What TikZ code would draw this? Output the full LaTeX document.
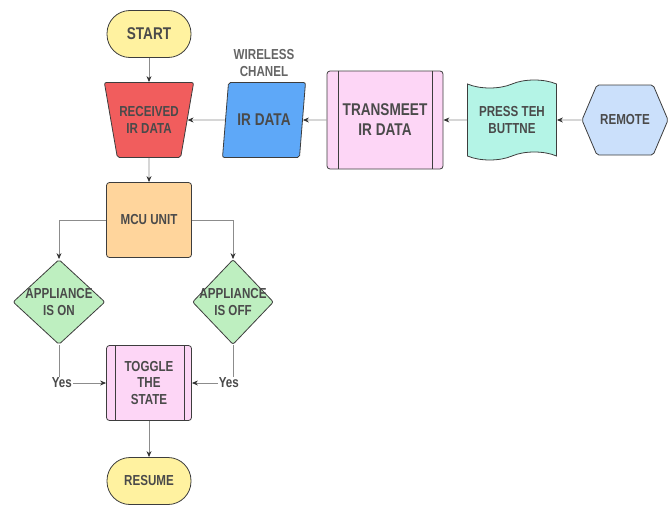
\documentclass[tikz,border=0pt]{standalone}
\usepackage{fontspec}
\newfontfamily\flowfont{Liberation Sans}[FakeStretch=0.8, BoldFont={Liberation Sans Bold}, BoldFeatures={FakeStretch=0.8}]
\usepackage{tikz}
\usetikzlibrary{arrows.meta, positioning, shapes.geometric, shapes.symbols}
\definecolor{bordergray}{HTML}{3D3D3D}
\definecolor{textgray}{HTML}{4A4A4A}
\definecolor{edgegray}{HTML}{8C8C8C}
\definecolor{tipgray}{HTML}{333333}
\definecolor{termyellow}{HTML}{FFF2A0}
\definecolor{recvred}{HTML}{F15D5D}
\definecolor{irblue}{HTML}{5EA8F8}
\definecolor{procpink}{HTML}{FDD6F6}
\definecolor{pressmint}{HTML}{B4F4E6}
\definecolor{remoteblue}{HTML}{CBE0FB}
\definecolor{mcuorange}{HTML}{FFD59C}
\definecolor{decgreen}{HTML}{BEEFC0}

\begin{document}
\begin{tikzpicture}[on grid, node distance=2cm,
        basefont/.style={font=\flowfont\bfseries\fontsize{14.5}{16.5}\selectfont, text=textgray},
        bigfont/.style={font=\flowfont\bfseries\fontsize{17}{20}\selectfont},
        box/.style={basefont, draw=bordergray, line width=0.8pt, align=center, inner sep=2pt},
        terminal/.style={box, rounded corners=23pt, minimum width=84pt, minimum height=47pt, fill=termyellow},
        process/.style={box, rounded corners=3pt, minimum width=85pt, minimum height=75pt},
        predef/.style={process, fill=procpink},
        decision/.style={box, diamond, inner sep=0pt, minimum height=85pt, fill=decgreen, rounded corners=2pt},
        flow/.style={draw=edgegray, line width=0.8pt, -{Stealth[length=6pt, width=5pt, color=tipgray]}},
        yeslabel/.style={basefont, fill=white, inner sep=1pt}
    ]
    \useasboundingbox (0,0) rectangle (669pt,-506pt);

    \node[terminal, bigfont] (start) at (149pt,-34pt) {START};
    \node[box, trapezium, shape border rotate=180, trapezium angle=67, trapezium stretches body,
          minimum width=82pt, minimum height=75pt, fill=recvred, rounded corners=2pt]
          (recv) [below=86pt of start] {RECEIVED\\IR DATA};
    \node[process, fill=mcuorange] (mcu) [below=100pt of recv] {MCU UNIT};
    \node[predef] (toggle) [below=163pt of mcu] {TOGGLE\\THE\\STATE};
    \node[terminal] (resume) [below=98pt of toggle] {RESUME};

    \node[box, bigfont, trapezium, trapezium left angle=69, trapezium right angle=111, trapezium stretches body,
          minimum width=83pt, minimum height=75pt, fill=irblue, rounded corners=2pt]
          (irdata) [right=115pt of recv] {IR DATA};
    \node[basefont, text=textgray!85, align=center] (wireless) [above=57pt of irdata] {WIRELESS\\CHANEL};
    \node[predef, bigfont, minimum width=116pt, minimum height=98pt]
          (transmit) [right=121pt of irdata] {TRANSMEET\\IR DATA};
    \node[box, tape, tape bend height=8pt, minimum width=89pt, minimum height=80pt, fill=pressmint]
          (press) [right=127pt of transmit] {PRESS TEH\\BUTTNE};
    \node[box, signal, signal to=west and east, signal pointer angle=134,
          minimum width=86pt, minimum height=70pt, fill=remoteblue, rounded corners=2pt]
          (remote) [right=113pt of press] {REMOTE};

    \node[decision, minimum width=92pt, label={[basefont, align=center]center:APPLIANCE\\IS ON}]
          (dleft) [below left=82pt and 90pt of mcu] {};
    \node[decision, minimum width=81pt, label={[basefont, align=center]center:APPLIANCE\\IS OFF}]
          (dright) [below right=82pt and 84pt of mcu] {};

    % side bars of the predefined process boxes
    \draw[bordergray, line width=0.8pt] ([xshift=12pt]transmit.north west) -- ([xshift=12pt]transmit.south west)
        ([xshift=-11pt]transmit.north east) -- ([xshift=-11pt]transmit.south east);
    \draw[bordergray, line width=0.8pt] ([xshift=9pt]toggle.north west) -- ([xshift=9pt]toggle.south west)
        ([xshift=-8pt]toggle.north east) -- ([xshift=-8pt]toggle.south east);

    \path[flow] (start) edge (recv)
        (recv) edge (mcu)
        (toggle) edge (resume)
        (irdata) edge (recv)
        (transmit) edge (irdata)
        (press) edge (transmit)
        (remote) edge (press);
    \draw[flow] (mcu.west) -| (dleft.north);
    \draw[flow] (mcu.east) -| (dright.north);
    \draw[flow] (dleft.south) |- node[yeslabel, pos=0.53] {Yes} (toggle.west);
    \draw[flow] (dright.south) |- node[yeslabel, pos=0.55] {Yes} (toggle.east);
\end{tikzpicture}
\end{document}
